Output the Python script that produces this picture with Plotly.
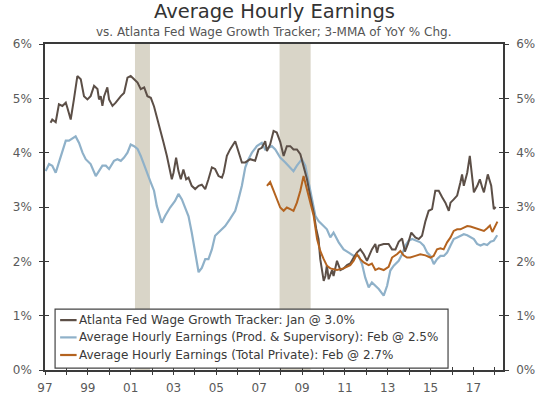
import plotly.graph_objects as go

# ---------------- data (decimal years, % YoY, 3-MMA) ----------------
atl_x = [1997.26, 1997.34, 1997.50, 1997.65, 1997.81, 1997.97, 1998.04, 1998.20, 1998.35, 1998.51,
         1998.67, 1998.82, 1998.98, 1999.13, 1999.29, 1999.45, 1999.52, 1999.60, 1999.68, 1999.76,
         1999.91, 1999.99, 2000.15, 2000.30, 2000.54, 2000.69, 2000.85, 2001.00, 2001.16, 2001.32,
         2001.47, 2001.63, 2001.78, 2001.94, 2002.09, 2002.22, 2002.37, 2002.53, 2002.69, 2002.84,
         2002.92, 2003.00, 2003.12, 2003.23, 2003.34, 2003.46, 2003.59, 2003.70, 2003.85, 2004.01,
         2004.17, 2004.32, 2004.48, 2004.63, 2004.79, 2004.94, 2005.10, 2005.26, 2005.34, 2005.49,
         2005.64, 2005.88, 2006.03, 2006.19, 2006.35, 2006.58, 2006.81, 2006.97, 2007.12, 2007.28,
         2007.36, 2007.51, 2007.67, 2007.82, 2007.98, 2008.14, 2008.29, 2008.45, 2008.60, 2008.76,
         2008.92, 2009.07, 2009.23, 2009.38, 2009.54, 2009.66, 2009.77, 2009.85, 2009.93, 2010.01,
         2010.09, 2010.16, 2010.24, 2010.40, 2010.47, 2010.63, 2010.79, 2010.94, 2011.10, 2011.25,
         2011.41, 2011.56, 2011.72, 2011.88, 2012.03, 2012.26, 2012.42, 2012.50, 2012.58, 2012.81,
         2013.04, 2013.20, 2013.36, 2013.51, 2013.67, 2013.80, 2013.95, 2014.10, 2014.29, 2014.45,
         2014.60, 2014.76, 2014.91, 2015.07, 2015.22, 2015.38, 2015.54, 2015.69, 2015.85, 2015.93,
         2016.08, 2016.24, 2016.39, 2016.47, 2016.55, 2016.71, 2016.83, 2016.94, 2017.02, 2017.18,
         2017.30, 2017.41, 2017.49, 2017.67, 2017.83, 2017.95, 2018.04]
atl_y = [4.55, 4.61, 4.56, 4.89, 4.86, 4.92, 4.83, 4.61, 4.98, 5.41,
         5.35, 5.04, 4.98, 5.04, 5.23, 5.17, 4.98, 5.04, 4.86, 5.04,
         5.20, 4.98, 4.86, 4.92, 5.04, 5.10, 5.38, 5.41, 5.35, 5.29,
         5.17, 5.20, 5.04, 5.01, 4.85, 4.67, 4.43, 4.19, 3.94, 3.69,
         3.51, 3.63, 3.91, 3.66, 3.51, 3.69, 3.51, 3.54, 3.39, 3.33,
         3.39, 3.41, 3.33, 3.51, 3.73, 3.70, 3.57, 3.54, 3.63, 3.94,
         4.06, 4.21, 4.00, 3.82, 3.82, 3.88, 3.85, 4.06, 4.09, 4.21,
         4.03, 4.15, 4.40, 4.37, 4.20, 3.94, 4.12, 4.12, 4.06, 4.06,
         3.97, 3.76, 3.51, 3.20, 2.90, 2.60, 2.41, 2.04, 1.80, 1.64,
         1.73, 1.93, 1.67, 1.84, 1.73, 2.01, 1.84, 1.87, 1.93, 1.96,
         2.07, 2.16, 2.22, 2.13, 2.01, 2.22, 2.32, 2.16, 2.29, 2.32,
         2.32, 2.22, 2.22, 2.36, 2.42, 2.18, 2.33, 2.53, 2.44, 2.41,
         2.47, 2.74, 2.93, 2.96, 3.30, 3.30, 3.18, 3.08, 2.93, 3.08,
         3.14, 3.21, 3.45, 3.60, 3.39, 3.63, 3.94, 3.57, 3.27, 3.39,
         3.51, 3.36, 3.27, 3.60, 3.39, 2.96, 3.00]

ps_x = [1997.03, 1997.19, 1997.34, 1997.50, 1997.65, 1997.81, 1997.97, 1998.12, 1998.28, 1998.43,
        1998.59, 1998.75, 1998.90, 1999.13, 1999.37, 1999.52, 1999.68, 1999.84, 1999.99, 2000.22,
        2000.38, 2000.54, 2000.69, 2000.85, 2001.00, 2001.16, 2001.32, 2001.47, 2001.63, 2001.78,
        2001.94, 2002.09, 2002.22, 2002.45, 2002.61, 2002.84, 2003.07, 2003.23, 2003.39, 2003.54,
        2003.70, 2003.85, 2004.01, 2004.17, 2004.32, 2004.48, 2004.63, 2004.79, 2004.94, 2005.18,
        2005.41, 2005.64, 2005.88, 2006.03, 2006.19, 2006.35, 2006.50, 2006.66, 2006.89, 2007.12,
        2007.28, 2007.43, 2007.59, 2007.75, 2007.98, 2008.22, 2008.45, 2008.60, 2008.76, 2008.99,
        2009.15, 2009.31, 2009.46, 2009.62, 2009.77, 2009.93, 2010.16, 2010.32, 2010.47, 2010.71,
        2010.94, 2011.18, 2011.41, 2011.64, 2011.80, 2011.95, 2012.11, 2012.26, 2012.42, 2012.58,
        2012.81, 2012.97, 2013.12, 2013.28, 2013.51, 2013.67, 2013.82, 2013.98, 2014.14, 2014.37,
        2014.52, 2014.68, 2014.84, 2014.99, 2015.15, 2015.30, 2015.46, 2015.62, 2015.77, 2015.93,
        2016.08, 2016.24, 2016.39, 2016.55, 2016.71, 2016.86, 2017.02, 2017.17, 2017.33, 2017.49,
        2017.64, 2017.80, 2017.95, 2018.11]
ps_y = [3.66, 3.79, 3.76, 3.63, 3.82, 4.00, 4.22, 4.22, 4.27, 4.30,
        4.18, 4.00, 3.88, 3.79, 3.57, 3.66, 3.76, 3.76, 3.70, 3.85,
        3.88, 3.85, 3.91, 4.00, 4.15, 4.12, 4.07, 3.94, 3.76, 3.60,
        3.45, 3.30, 3.02, 2.71, 2.84, 2.99, 3.11, 3.24, 3.14, 2.99,
        2.83, 2.53, 2.16, 1.80, 1.88, 2.04, 2.04, 2.22, 2.47, 2.56,
        2.65, 2.78, 2.93, 3.14, 3.39, 3.73, 3.88, 4.00, 4.12, 4.18,
        4.06, 4.09, 4.12, 4.06, 3.91, 3.82, 3.73, 3.66, 3.76, 3.88,
        3.76, 3.45, 3.20, 2.84, 2.74, 2.68, 2.59, 2.44, 2.53, 2.35,
        2.22, 2.16, 2.10, 2.10, 1.95, 1.70, 1.52, 1.61, 1.55, 1.49,
        1.37, 1.55, 1.83, 1.92, 2.01, 2.13, 2.29, 2.38, 2.41, 2.38,
        2.35, 2.29, 2.16, 2.10, 1.95, 2.04, 2.10, 2.10, 2.16, 2.29,
        2.41, 2.44, 2.47, 2.50, 2.48, 2.44, 2.41, 2.32, 2.29, 2.32,
        2.30, 2.36, 2.38, 2.48]

tp_x = [2007.36, 2007.51, 2007.67, 2007.82, 2007.98, 2008.14, 2008.29, 2008.45, 2008.60, 2008.76,
        2008.92, 2009.07, 2009.23, 2009.38, 2009.54, 2009.70, 2009.85, 2010.01, 2010.16, 2010.32,
        2010.63, 2010.94, 2011.25, 2011.41, 2011.56, 2011.72, 2011.88, 2012.11, 2012.26, 2012.42,
        2012.58, 2012.81, 2013.04, 2013.20, 2013.43, 2013.59, 2013.74, 2013.90, 2014.05, 2014.29,
        2014.52, 2014.76, 2014.99, 2015.14, 2015.30, 2015.46, 2015.61, 2015.77, 2015.93, 2016.08,
        2016.24, 2016.39, 2016.55, 2016.71, 2016.86, 2017.02, 2017.18, 2017.33, 2017.49, 2017.64,
        2017.77, 2017.88, 2018.03, 2018.12]
tp_y = [3.39, 3.46, 3.30, 3.14, 2.99, 2.93, 2.99, 2.96, 2.93, 3.08,
        3.30, 3.57, 3.33, 3.08, 2.84, 2.41, 2.19, 2.04, 1.92, 1.87,
        1.84, 1.87, 1.93, 2.01, 2.13, 2.04, 1.98, 1.93, 1.96, 1.84,
        1.87, 1.84, 1.90, 2.07, 2.13, 2.19, 2.11, 2.07, 2.07, 2.10,
        2.13, 2.11, 2.07, 2.10, 2.22, 2.24, 2.22, 2.35, 2.44, 2.56,
        2.59, 2.59, 2.62, 2.65, 2.64, 2.62, 2.61, 2.59, 2.56, 2.61,
        2.66, 2.54, 2.67, 2.73]

series_names = ["Atlanta Fed Wage Growth Tracker: Jan @ 3.0%",
                "Average Hourly Earnings (Prod. & Supervisory): Feb @ 2.5%",
                "Average Hourly Earnings (Total Private): Feb @ 2.7%"]
series_colors = ["#5c4f47", "#8fb1c9", "#b4631f"]

recession_start = [2001.2, 2007.95]
recession_end = [2001.9, 2009.4]

year_ticks = list(range(1997, 2019))
year_labels = [("%02d" % (y % 100)) if (y % 2 == 1 and y <= 2017) else "" for y in year_ticks]
y_ticks = [0, 1, 2, 3, 4, 5, 6]
y_labels = ["0%", "1%", "2%", "3%", "4%", "5%", "6%"]

# ---------------- styling ----------------
FONT = "DejaVu Sans"
AX = "#3a3a3a"
TICKFONT = dict(family=FONT, size=12, color="#5a5a5a")
XR = [1997, 2018.38]
YR = [0, 6]

fig = go.Figure()
fig.add_trace(go.Scatter(x=ps_x, y=ps_y, mode="lines", name=series_names[1], showlegend=False,
                         line=dict(color=series_colors[1], width=2.2)))
fig.add_trace(go.Scatter(x=atl_x, y=atl_y, mode="lines", name=series_names[0], showlegend=False,
                         line=dict(color=series_colors[0], width=2)))
fig.add_trace(go.Scatter(x=tp_x, y=tp_y, mode="lines", name=series_names[2], showlegend=False,
                         line=dict(color=series_colors[2], width=2)))
# helper traces that only anchor the tick-only axes
for xa, ya in [("x2", "y"), ("x", "y2"), ("x", "y3"), ("x", "y4")]:
    fig.add_trace(go.Scatter(x=[], y=[], xaxis=xa, yaxis=ya, showlegend=False, hoverinfo="skip"))

for s, e in zip(recession_start, recession_end):
    fig.add_shape(type="rect", xref="x", yref="paper", x0=s, x1=e, y0=0, y1=1,
                  fillcolor="#d9d5c8", line=dict(width=0), layer="below")

# boxed legend (drawn as layout items, placed in paper coordinates)
fig.add_shape(type="rect", xref="paper", yref="paper", x0=0.022, x1=0.880, y0=0.006, y1=0.187,
              fillcolor="white", line=dict(color="#444444", width=1.2), layer="above")
legend_rows = [0.153, 0.100, 0.046]
annotations = []
for name, color, ry in zip(series_names, series_colors, legend_rows):
    fig.add_shape(type="line", xref="paper", yref="paper", x0=0.033, x1=0.069, y0=ry, y1=ry,
                  line=dict(color=color, width=2.2), layer="above")
    annotations.append(dict(text=name, xref="paper", yref="paper", x=0.069, y=ry,
                            xanchor="left", yanchor="middle", showarrow=False,
                            font=dict(family=FONT, size=12, color="#3a3a3a")))

annotations += [
    dict(text="Average Hourly Earnings", xref="paper", yref="paper", x=0.5, y=1.0997,
         xanchor="center", yanchor="middle", showarrow=False,
         font=dict(family=FONT, size=19.5, color="#333333")),
    dict(text="vs. Atlanta Fed Wage Growth Tracker; 3-MMA of YoY % Chg.", xref="paper",
         yref="paper", x=0.5, y=1.037, xanchor="center", yanchor="middle", showarrow=False,
         font=dict(family=FONT, size=12, color="#555555")),
]

fig.update_layout(
    width=544, height=398,
    margin=dict(l=45, r=41, t=44, b=28, autoexpand=False),
    paper_bgcolor="white", plot_bgcolor="white",
    font=dict(family=FONT, color="#333333"),
    showlegend=False,
    xaxis=dict(range=XR, tickvals=year_ticks, ticktext=year_labels, ticks="outside", ticklen=3,
               tickcolor=AX, tickwidth=1.2, showline=True, linecolor=AX, linewidth=1.5, mirror=True,
               showgrid=False, zeroline=False, tickfont=TICKFONT, ticklabelstandoff=3,
               automargin=False),
    xaxis2=dict(range=XR, overlaying="x", anchor="y", side="bottom", tickvals=year_ticks,
                ticks="inside", ticklen=3, tickcolor=AX, tickwidth=1.2, showticklabels=False,
                showline=False, showgrid=False, zeroline=False, automargin=False),
    yaxis=dict(range=YR, tickvals=y_ticks, ticktext=y_labels, ticks="outside", ticklen=4,
               tickcolor=AX, tickwidth=1.2, showline=True, linecolor=AX, linewidth=1.5,
               showgrid=False, zeroline=False, tickfont=TICKFONT, ticklabelstandoff=5,
               automargin=False),
    yaxis2=dict(range=YR, overlaying="y", side="right", anchor="x", tickvals=y_ticks, ticktext=y_labels,
                ticks="outside", ticklen=4, tickcolor=AX, tickwidth=1.2, showline=True, linecolor=AX,
                linewidth=1.5, showgrid=False, zeroline=False, tickfont=TICKFONT, ticklabelstandoff=5,
                automargin=False),
    yaxis3=dict(range=YR, overlaying="y", side="left", anchor="x", tickvals=y_ticks, ticks="inside",
                ticklen=4, tickcolor=AX, tickwidth=1.2, showticklabels=False, showline=False,
                showgrid=False, zeroline=False, automargin=False),
    yaxis4=dict(range=YR, overlaying="y", side="right", anchor="x", tickvals=y_ticks, ticks="inside",
                ticklen=4, tickcolor=AX, tickwidth=1.2, showticklabels=False, showline=False,
                showgrid=False, zeroline=False, automargin=False),
    annotations=annotations,
)

# remove the browser's default 8px body margin so the figure sits at the page's top-left corner;
# hide the interactive mode bar so it never covers the title
fig.write_html("out.html", config={"displayModeBar": False},
               post_script="document.body.style.margin='0';")
